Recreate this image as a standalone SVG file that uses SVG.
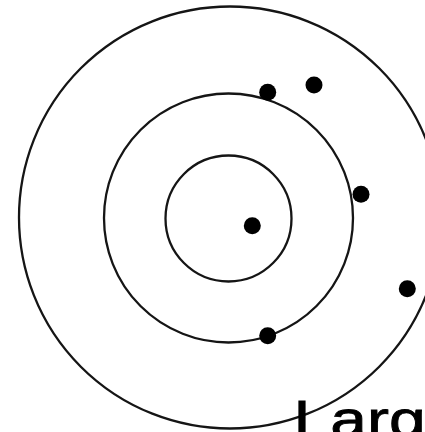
<svg xmlns="http://www.w3.org/2000/svg" width="425" height="432" viewBox="0 0 425 432">
<style>
.ring{fill:none;stroke:#151515;stroke-width:2.3}
.dot{fill:#000}
.lbl{font-family:"Liberation Sans",Arial,sans-serif;font-size:52px;fill:#000;stroke:#000;stroke-width:0.8}
</style>
<rect width="425" height="432" fill="#fff"/>
<g id="rings">
<circle id="outer" class="ring" cx="230" cy="217.5" r="211"/>
<circle id="middle" class="ring" cx="228.5" cy="218" r="124.5"/>
<circle id="inner" class="ring" cx="228.5" cy="218.5" r="63"/>
</g>
<g id="dots">
<circle class="dot" cx="267.7" cy="92.3" r="8.5"/>
<circle class="dot" cx="314" cy="85" r="8.5"/>
<circle class="dot" cx="361" cy="194.3" r="8.5"/>
<circle class="dot" cx="252.3" cy="225.7" r="8.5"/>
<circle class="dot" cx="407.3" cy="288.7" r="8.5"/>
<circle class="dot" cx="267.7" cy="335.7" r="8.5"/>
</g>
<text class="lbl" transform="translate(293.5,437) scale(1.27,1)">Large</text>
</svg>
